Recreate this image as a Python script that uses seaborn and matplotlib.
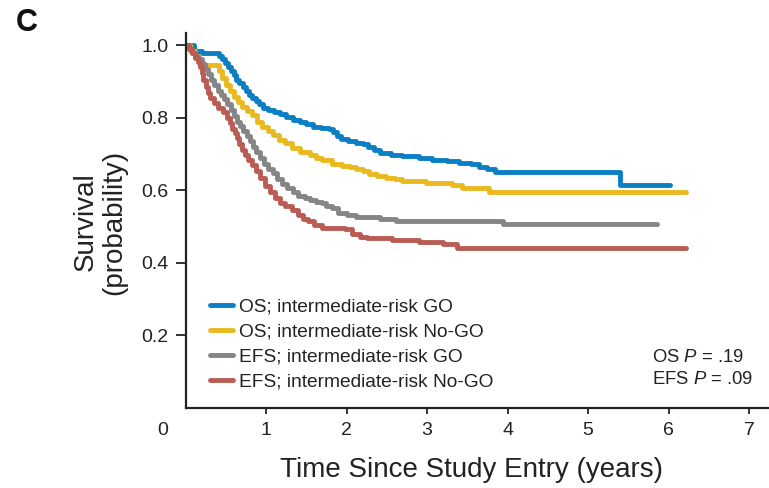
import numpy as np
import pandas as pd
import matplotlib
matplotlib.use("Agg")
import matplotlib.pyplot as plt
import seaborn as sns

# ---- data ----
os_go_t = [0, 0.10, 0.20, 0.41, 0.45, 0.49, 0.53, 0.56, 0.60, 0.63, 0.67, 0.71, 0.75, 0.79, 0.83, 0.87,
           0.91, 0.96, 1.02, 1.10, 1.17, 1.25, 1.33, 1.42, 1.50, 1.58, 1.68, 1.78, 1.83, 1.88, 1.93,
           2.02, 2.12, 2.20, 2.27, 2.34, 2.41, 2.55, 2.69, 2.90, 3.06, 3.25, 3.40, 3.55, 3.65, 3.75,
           3.85, 5.40, 6.02]
os_go_s = [1.0, 0.985, 0.978, 0.972, 0.962, 0.952, 0.94, 0.93, 0.918, 0.906, 0.895, 0.885, 0.874, 0.864, 0.855, 0.846,
           0.838, 0.828, 0.822, 0.815, 0.81, 0.802, 0.795, 0.788, 0.782, 0.776, 0.772, 0.768, 0.762, 0.75, 0.742,
           0.736, 0.732, 0.727, 0.72, 0.712, 0.703, 0.698, 0.694, 0.69, 0.683, 0.68, 0.676, 0.672, 0.665, 0.658,
           0.65, 0.614, 0.614]

os_nogo_t = [0, 0.06, 0.12, 0.17, 0.22, 0.41, 0.45, 0.50, 0.55, 0.60, 0.65, 0.70, 0.76, 0.82, 0.89, 0.95,
             1.02, 1.09, 1.16, 1.24, 1.32, 1.42, 1.55, 1.62, 1.70, 1.82, 1.95, 2.04, 2.12, 2.20, 2.28,
             2.38, 2.49, 2.60, 2.69, 2.99, 3.31, 3.43, 3.77, 4.53, 6.22]
os_nogo_s = [1.0, 0.985, 0.97, 0.955, 0.946, 0.93, 0.91, 0.89, 0.875, 0.858, 0.843, 0.83, 0.818, 0.808, 0.79,
             0.775, 0.764, 0.752, 0.74, 0.73, 0.716, 0.705, 0.697, 0.689, 0.684, 0.674, 0.668, 0.664, 0.658,
             0.653, 0.646, 0.639, 0.634, 0.631, 0.625, 0.619, 0.614, 0.606, 0.594, 0.594, 0.594]

efs_go_t = [0, 0.04, 0.08, 0.12, 0.16, 0.20, 0.24, 0.28, 0.32, 0.36, 0.40, 0.44, 0.48, 0.52, 0.56, 0.60,
            0.64, 0.68, 0.72, 0.76, 0.80, 0.84, 0.88, 0.93, 0.98, 1.03, 1.09, 1.14, 1.20, 1.26, 1.33,
            1.40, 1.48, 1.55, 1.62, 1.69, 1.75, 1.82, 1.89, 2.00, 2.12, 2.41, 2.62, 3.95, 5.86]
efs_go_s = [1.0, 0.99, 0.98, 0.972, 0.962, 0.95, 0.935, 0.92, 0.905, 0.89, 0.875, 0.863, 0.851, 0.839, 0.822, 0.805,
            0.79, 0.778, 0.765, 0.75, 0.736, 0.72, 0.705, 0.689, 0.672, 0.66, 0.647, 0.632, 0.617, 0.605, 0.594,
            0.583, 0.578, 0.572, 0.567, 0.564, 0.556, 0.55, 0.538, 0.532, 0.525, 0.522, 0.514, 0.506, 0.506]

efs_nogo_t = [0, 0.04, 0.08, 0.12, 0.15, 0.18, 0.20, 0.22, 0.25, 0.28, 0.31, 0.35, 0.40, 0.46, 0.52, 0.55,
              0.58, 0.61, 0.64, 0.67, 0.70, 0.74, 0.78, 0.82, 0.87, 0.93, 0.99, 1.05, 1.11, 1.17, 1.23,
              1.32, 1.40, 1.46, 1.52, 1.60, 1.69, 1.98, 2.07, 2.17, 2.25, 2.57, 2.90, 3.20, 3.37, 6.22]
efs_nogo_s = [1.0, 0.99, 0.978, 0.965, 0.955, 0.94, 0.925, 0.905, 0.885, 0.868, 0.856, 0.842, 0.828, 0.815, 0.80,
              0.785, 0.77, 0.757, 0.744, 0.728, 0.712, 0.698, 0.685, 0.67, 0.652, 0.633, 0.611, 0.595, 0.578,
              0.566, 0.556, 0.545, 0.533, 0.522, 0.514, 0.505, 0.497, 0.492, 0.478, 0.472, 0.469, 0.464, 0.458,
              0.452, 0.44, 0.44]

labels = ["OS; intermediate-risk GO", "OS; intermediate-risk No-GO",
          "EFS; intermediate-risk GO", "EFS; intermediate-risk No-GO"]
colors = ["#0A7FC4", "#E9B91F", "#858585", "#B95C54"]
x_ticks = [1, 2, 3, 4, 5, 6, 7]
y_ticks = [0.2, 0.4, 0.6, 0.8, 1.0]

frames = []
for lab, t, s in zip(labels, [os_go_t, os_nogo_t, efs_go_t, efs_nogo_t],
                     [os_go_s, os_nogo_s, efs_go_s, efs_nogo_s]):
    frames.append(pd.DataFrame({"time": t, "surv": s, "group": lab}))
df = pd.concat(frames, ignore_index=True)

sns.set_theme(style="white")
plt.rcParams["font.family"] = ["Liberation Sans", "DejaVu Sans"]
plt.rcParams["mathtext.fontset"] = "custom"
plt.rcParams["mathtext.it"] = "Liberation Sans:italic"
plt.rcParams["mathtext.rm"] = "Liberation Sans"

fig = plt.figure(figsize=(7.69, 4.88), dpi=100)
ax = fig.add_axes([185.5 / 769, 1 - 407.5 / 488, (769 - 185.5) / 769, (407.5 - 33) / 488])

sns.lineplot(data=df, x="time", y="surv", hue="group", hue_order=labels,
             palette=colors, drawstyle="steps-post", estimator=None, sort=False,
             linewidth=3.5, ax=ax, legend=True)

ax.set_xlim(0, (769 - 185.5) / 80.5)
ax.set_ylim(0, 1 + 12.5 / 362.5)
ax.set_xticks(x_ticks)
ax.set_xticklabels([str(v) for v in x_ticks], fontsize=14)
ax.set_yticks(y_ticks)
ax.set_yticklabels([f"{v:.1f}" for v in y_ticks], fontsize=14)
ax.tick_params(axis="x", bottom=True, direction="out", length=4.5, width=1.3, pad=6,
               color="#222222", labelcolor="#222222")
ax.tick_params(axis="y", left=True, direction="out", length=7, width=1.3, pad=5,
               color="#222222", labelcolor="#222222")
for side in ["top", "right"]:
    ax.spines[side].set_visible(False)
for side in ["left", "bottom"]:
    ax.spines[side].set_linewidth(1.6)
    ax.spines[side].set_color("#222222")

ax.text(-0.28, -23 / 374.5, "0", transform=ax.get_xaxis_transform(),
        ha="center", va="center", fontsize=14, color="#222222")

ax.set_xlabel("Time Since Study Entry (years)", fontsize=20, color="#222222")
ax.xaxis.set_label_coords(0.49, -0.133)
ax.set_ylabel("Survival\n(probability)", fontsize=20, color="#222222", linespacing=1.1)
ax.yaxis.set_label_coords(-0.100, 0.495)

leg = ax.legend(loc="upper left", bbox_to_anchor=(24.5 / 583.5, (407.5 - 298) / 374.5),
                frameon=False, fontsize=13.8, handlelength=1.22, handletextpad=0.3,
                labelspacing=0.4, borderpad=0, borderaxespad=0)
for h in leg.get_lines():
    h.set_linewidth(3.5)
for t in leg.get_texts():
    t.set_color("#222222")

fig.text(652 / 769, 1 - 357 / 488, "OS $P$ = .19", ha="left", va="center", fontsize=13.3, color="#222222")
fig.text(652 / 769, 1 - 379 / 488, "EFS $P$ = .09", ha="left", va="center", fontsize=13.3, color="#222222")

fig.text(27 / 769, 1 - 23 / 488, "C", ha="center", va="center", fontsize=22, fontweight="bold", color="#111111")

fig.savefig("out.png", dpi=100)
